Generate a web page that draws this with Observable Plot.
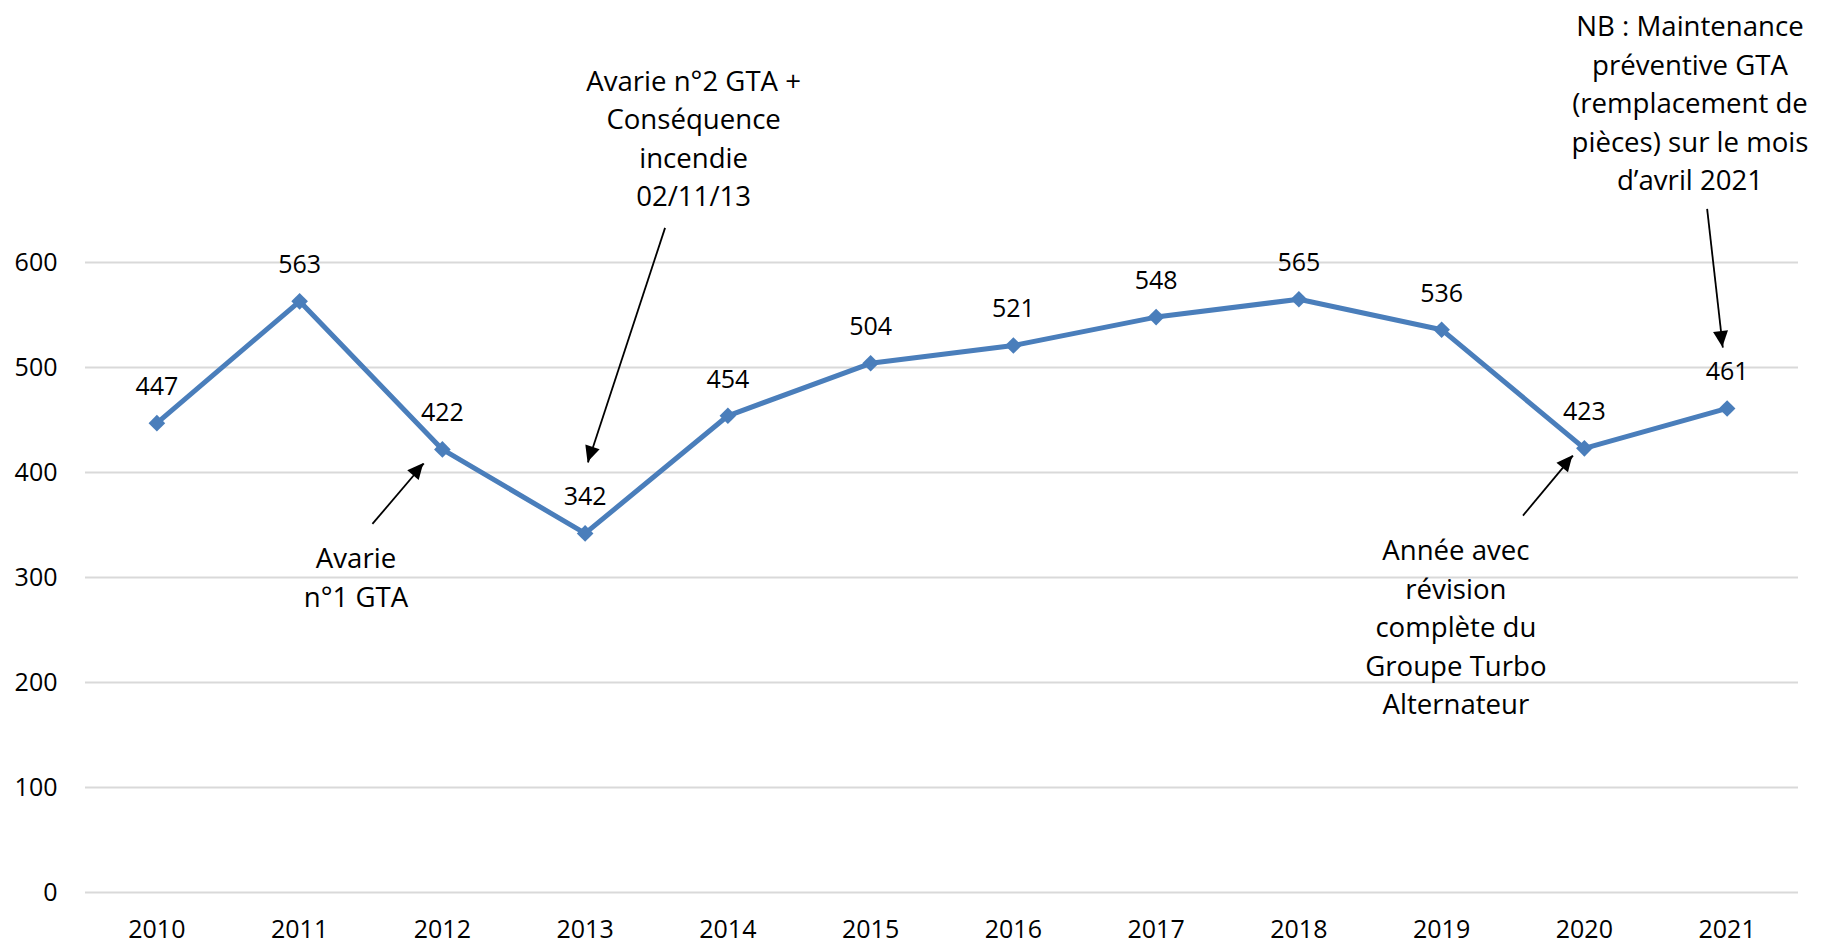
<!DOCTYPE html>
<html><head><meta charset="utf-8">
<script src="https://cdn.jsdelivr.net/npm/d3@7"></script>
<script src="https://cdn.jsdelivr.net/npm/@observablehq/plot@0.6"></script>
<style>body{margin:0;background:#fff;}</style>
</head><body><div id="chart"></div>
<script>
const years = [2010, 2011, 2012, 2013, 2014, 2015, 2016, 2017, 2018, 2019, 2020, 2021];
const values = [447, 563, 422, 342, 454, 504, 521, 548, 565, 536, 423, 461];
const yTicks = [0, 100, 200, 300, 400, 500, 600];

const noteLabels = [
  "Avarie\nn°1 GTA",
  "Avarie n°2 GTA +\nConséquence\nincendie\n02/11/13",
  "Année avec\nrévision\ncomplète du\nGroupe Turbo\nAlternateur",
  "NB : Maintenance\npréventive GTA\n(remplacement de\npièces) sur le mois\nd’avril 2021"
];
const noteX = [2011.395, 2013.76, 2019.10, 2020.74];
const noteY = [302, 720.5, 255, 754];

const arrowX1 = [2011.51, 2013.56, 2019.57, 2020.86];
const arrowY1 = [351, 633, 359, 651];
const arrowX2 = [2011.87, 2013.02, 2019.92, 2020.97];
const arrowY2 = [408.6, 409.5, 416, 519];

const data = years.map((year, i) => ({year, value: values[i]}));
const notes = noteLabels.map((text, i) => ({text, x: noteX[i], y: noteY[i]}));
const arrows = arrowX1.map((x1, i) => ({x1, y1: arrowY1[i], x2: arrowX2[i], y2: arrowY2[i]}));

const blue = "#4a7ebb";

const arrowHeads = (index, scales) => {
  const g = d3.create("svg:g");
  arrows.forEach(a => {
    const x1 = scales.x(a.x1), y1 = scales.y(a.y1), x2 = scales.x(a.x2), y2 = scales.y(a.y2);
    const ang = Math.atan2(y2 - y1, x2 - x1);
    const L = 16, W = 7.5;
    const bx = x2 - L * Math.cos(ang), by = y2 - L * Math.sin(ang);
    const px = -Math.sin(ang) * W, py = Math.cos(ang) * W;
    g.append("path")
      .attr("d", `M${x2},${y2}L${bx + px},${by + py}L${bx - px},${by - py}Z`)
      .attr("fill", "black");
  });
  return g.node();
};

const chart = Plot.plot({
  width: 1825,
  height: 945,
  marginLeft: 85,
  marginRight: 27,
  marginTop: 262,
  marginBottom: 53,
  style: {fontFamily: "'Open Sans', sans-serif", fontSize: "25px", color: "black", background: "white"},
  x: {domain: [2009.5, 2021.5], type: "linear"},
  y: {domain: [0, 600]},
  marks: [
    Plot.ruleY(yTicks, {stroke: "#d9d9d9", strokeWidth: 2}),
    Plot.axisY({ticks: yTicks, tickSize: 0, tickPadding: 28, fontSize: 25}),
    Plot.axisX({ticks: years, tickFormat: d => String(d), tickSize: 0, tickPadding: 28, fontSize: 25}),
    Plot.line(data, {x: "year", y: "value", stroke: blue, strokeWidth: 5}),
    Plot.dot(data, {x: "year", y: "value", symbol: "diamond2", r: 7.5, fill: blue, stroke: "none"}),
    Plot.text(data, {x: "year", y: "value", text: d => String(d.value), dy: -36, fontSize: 25, fill: "black"}),
    Plot.link(arrows, {x1: "x1", y1: "y1", x2: "x2", y2: "y2", stroke: "black", strokeWidth: 1.8}),
    arrowHeads,
    Plot.text(notes, {x: "x", y: "y", text: "text", fontSize: 27.6, lineHeight: 1.395, lineAnchor: "middle", fill: "black"})
  ]
});
document.getElementById("chart").appendChild(chart);
</script>
</body></html>
